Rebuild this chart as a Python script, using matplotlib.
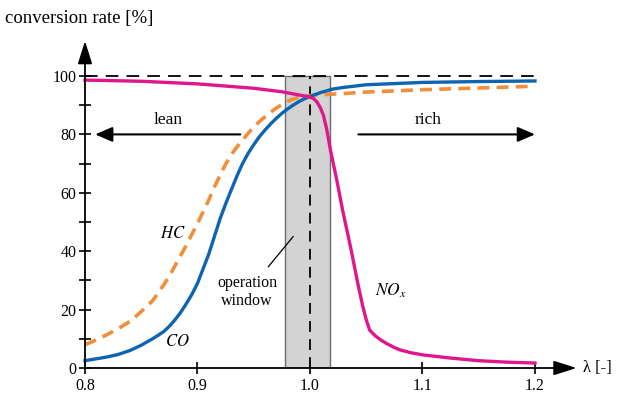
import numpy as np
import matplotlib
matplotlib.use("Agg")
import matplotlib.pyplot as plt
from matplotlib.patches import Rectangle

plt.rcParams['font.family'] = ['Liberation Serif', 'DejaVu Serif']
plt.rcParams['mathtext.fontset'] = 'stix'

# lambda values and conversion rates
lam_co = [0.80, 0.82, 0.83, 0.84, 0.85, 0.86, 0.865, 0.87, 0.875, 0.88, 0.885, 0.89, 0.895,
          0.90, 0.905, 0.91, 0.915, 0.92, 0.925, 0.93, 0.935, 0.94, 0.945, 0.95, 0.955,
          0.96, 0.965, 0.97, 0.975, 0.98, 0.985, 0.99, 0.995, 1.00, 1.01, 1.02, 1.03,
          1.05, 1.10, 1.15, 1.20]
co = [2.5, 3.8, 4.7, 6.0, 7.8, 10.0, 11.2, 12.5, 14.3, 16.5, 19.0, 22.0, 25.2,
      29.0, 34.0, 39.0, 45.0, 51.0, 56.2, 61.0, 65.7, 70.0, 73.5, 76.5, 79.2,
      81.5, 83.6, 85.5, 87.2, 88.7, 90.0, 91.2, 92.2, 93.0, 94.4, 95.5, 96.1,
      97.0, 97.8, 98.1, 98.3]

lam_hc = [0.80, 0.81, 0.82, 0.83, 0.84, 0.85, 0.86, 0.865, 0.87, 0.875, 0.88, 0.885, 0.89,
          0.895, 0.90, 0.905, 0.91, 0.915, 0.92, 0.925, 0.93, 0.935, 0.94, 0.945, 0.95,
          0.955, 0.96, 0.965, 0.97, 0.975, 0.98, 0.985, 0.99, 0.995, 1.00, 1.01, 1.02,
          1.03, 1.05, 1.10, 1.15, 1.20]
hc = [8.0, 9.6, 11.5, 13.6, 16.0, 19.3, 23.0, 25.7, 28.5, 31.5, 35.0, 38.5, 42.0,
      45.8, 49.5, 53.5, 57.5, 62.0, 66.0, 69.8, 73.0, 75.7, 78.0, 80.4, 82.5,
      84.4, 86.0, 87.6, 89.0, 90.2, 91.3, 92.1, 92.7, 93.1, 93.3, 93.6, 93.8,
      94.0, 94.5, 95.3, 95.9, 96.5]

lam_nox = [0.80, 0.85, 0.90, 0.95, 0.975, 1.00, 1.003, 1.006, 1.009, 1.012, 1.015, 1.018,
           1.021, 1.024, 1.029, 1.036, 1.043, 1.047, 1.05, 1.053, 1.058, 1.063, 1.068,
           1.075, 1.08, 1.09, 1.10, 1.125, 1.15, 1.175, 1.20]
nox = [98.6, 98.2, 97.3, 95.8, 94.6, 92.8, 92.3, 91.2, 89.3, 86.5, 81.5, 75.0,
       69.5, 64.0, 54.0, 41.5, 28.0, 21.0, 16.5, 13.0, 11.0, 9.6, 8.4,
       7.0, 6.2, 5.2, 4.5, 3.4, 2.5, 2.0, 1.7]

x_ticks = [0.8, 0.9, 1.0, 1.1, 1.2]
y_ticks = [0, 20, 40, 60, 80, 100]

window = (0.978, 1.018)

blue = '#0d64b0'
orange = '#f08e3a'
magenta = '#e0168c'

fig = plt.figure(figsize=(6.27, 3.96), dpi=100)
ax = fig.add_axes([85/627, 28/396, 540/627, 335.8/396])
ax.set_xlim(0.8, 1.28)
ax.set_ylim(0, 115)
for s in ax.spines.values():
    s.set_visible(False)

# operation window
ax.add_patch(Rectangle((window[0], 0), window[1]-window[0], 100,
                       facecolor='#d3d3d3', edgecolor='#6e6e6e', lw=1.0, zorder=1))
ax.plot([0.8, 1.2], [100, 100], color='black', lw=1.3, ls=(0, (7, 4.5)), zorder=2)
ax.plot([1.0, 1.0], [0, 100], color='black', lw=1.3, ls=(0, (6, 4)), zorder=2)

# curves
ax.plot(lam_hc, hc, color=orange, lw=2.6, ls=(0, (3.3, 2)), zorder=3, clip_on=False)
ax.plot(lam_co, co, color=blue, lw=2.4, zorder=4, clip_on=False, solid_joinstyle='round')
ax.plot(lam_nox, nox, color=magenta, lw=2.4, zorder=4, clip_on=False, solid_joinstyle='round')

# axes with arrow heads
ax.annotate('', xy=(1.237, 0), xytext=(0.8, 0), annotation_clip=False,
            arrowprops=dict(arrowstyle='-|>,head_length=0.7,head_width=0.22', color='black',
                            lw=1.3, mutation_scale=20, shrinkA=0, shrinkB=0), zorder=5)
ax.annotate('', xy=(0.8, 112), xytext=(0.8, 0), annotation_clip=False,
            arrowprops=dict(arrowstyle='-|>,head_length=0.7,head_width=0.22', color='black',
                            lw=1.3, mutation_scale=20, shrinkA=0, shrinkB=0), zorder=5)

# lean / rich arrows
ax.annotate('', xy=(0.809, 80), xytext=(0.938, 80),
            arrowprops=dict(arrowstyle='-|>,head_length=0.7,head_width=0.3', color='black',
                            lw=1.5, mutation_scale=15, shrinkA=0, shrinkB=0))
ax.annotate('', xy=(1.2, 80), xytext=(1.043, 80),
            arrowprops=dict(arrowstyle='-|>,head_length=0.7,head_width=0.3', color='black',
                            lw=1.5, mutation_scale=15, shrinkA=0, shrinkB=0))
ax.text(0.874, 84.8, 'lean', ha='center', va='center', fontsize=12.5)
ax.text(1.105, 84.8, 'rich', ha='center', va='center', fontsize=12.5)

# labels on curves
ax.text(0.878, 46, r'$HC$', ha='center', va='center', fontsize=12)
ax.text(0.882, 9, r'$CO$', ha='center', va='center', fontsize=12)
ax.text(1.072, 26.5, r'$NO_x$', ha='center', va='center', fontsize=12.5)
ax.text(0.944, 26, 'operation\nwindow', ha='center', va='center', fontsize=11.5,
        linespacing=1.1)
ax.plot([0.963, 0.985], [34.7, 45], color='black', lw=0.9, zorder=3)

# ticks
ax.set_xticks(x_ticks)
ax.set_xticklabels(['0.8', '0.9', '1.0', '1.1', '1.2'])
ax.set_yticks(y_ticks)
ax.set_yticks([10, 30, 50, 70, 90], minor=True)
ax.tick_params(axis='both', which='both', direction='inout', length=8, width=1.2,
               labelsize=11.5)
ax.tick_params(axis='x', pad=3)
ax.tick_params(axis='y', pad=2)

ax.text(1.243, 0, r'λ [-]', ha='left', va='center', fontsize=12)
fig.text(5/627, 1 - 18/396, 'conversion rate [%]', ha='left', va='center', fontsize=13.5)

fig.savefig('out.png', dpi=100)
